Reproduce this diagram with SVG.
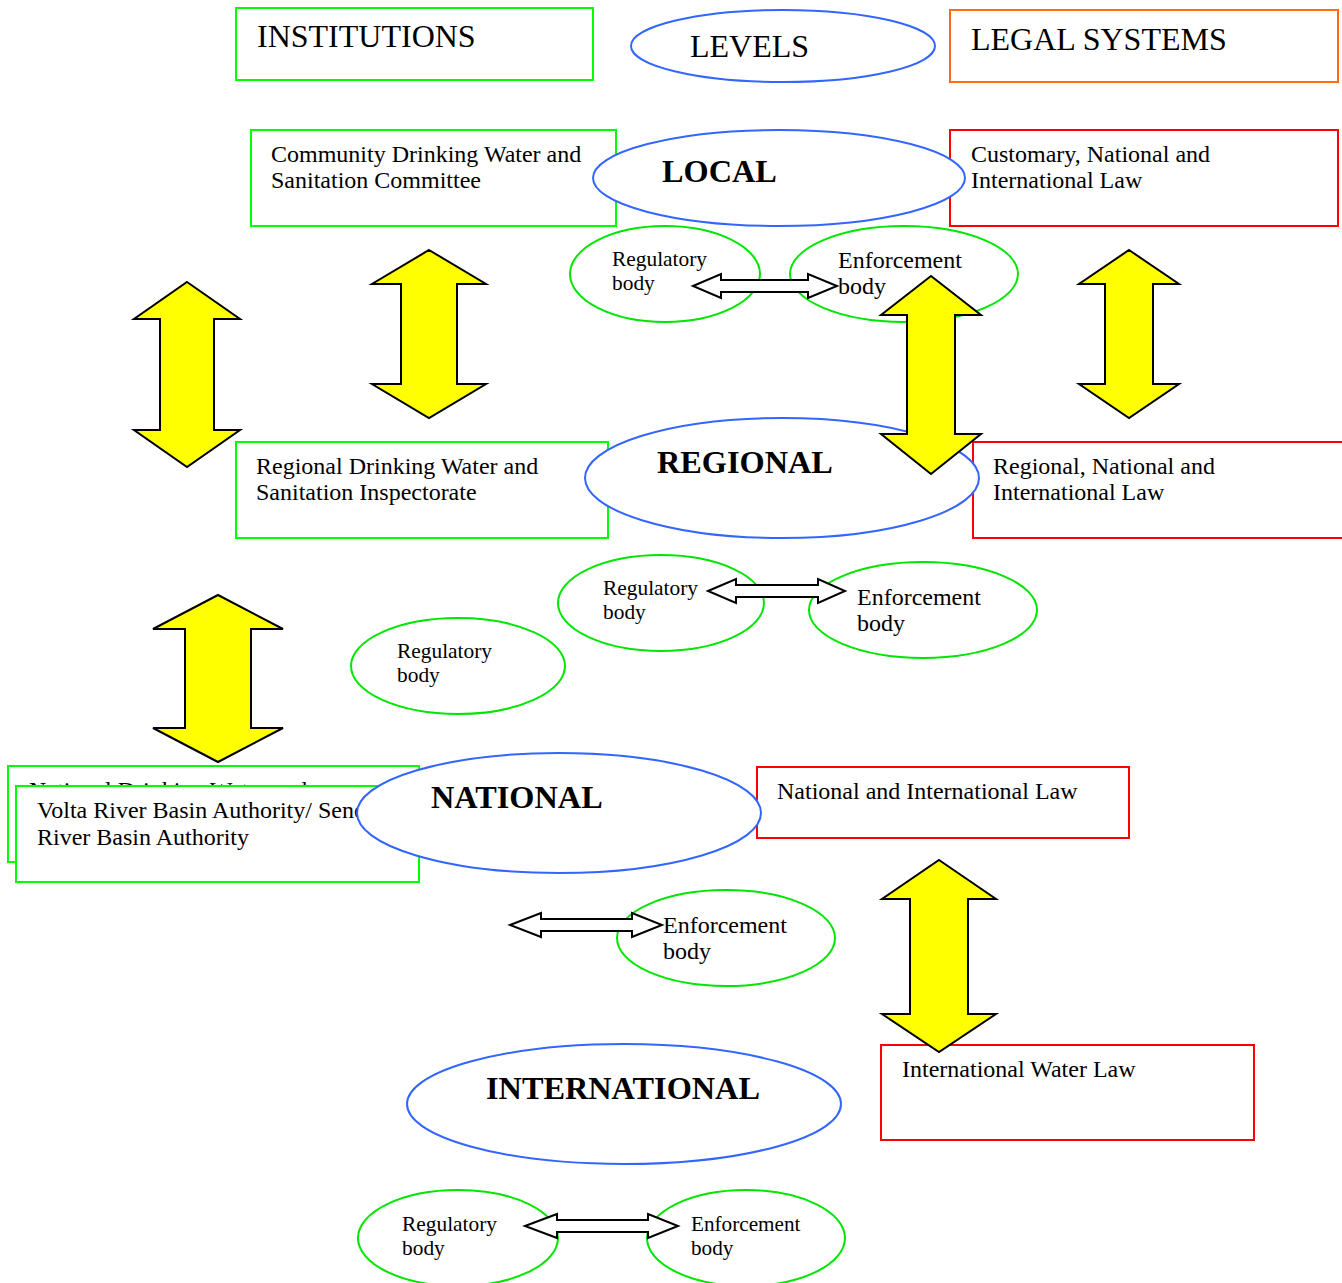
<svg xmlns="http://www.w3.org/2000/svg" width="1342" height="1283" viewBox="0 0 1342 1283">
<style>
.g{fill:#fff;stroke:#00ff00;stroke-width:2}
.r{fill:#fff;stroke:#ff0000;stroke-width:2}
.o{fill:#fff;stroke:#ff6a1a;stroke-width:2}
.b{fill:#fff;stroke:#3366ff;stroke-width:2}
.ge{fill:#fff;stroke:#00e600;stroke-width:2}
.y{fill:#ffff00;stroke:#000;stroke-width:2;stroke-linejoin:miter}
.w{fill:#fff;stroke:#000;stroke-width:2}
text{font-family:"Liberation Serif","Times New Roman",serif;fill:#000}
.h{font-size:32px}
.t{font-size:24px}
.lv{font-size:32.3px;font-weight:bold}
.s{font-size:21.4px}
.e{font-size:24px}
.s2{font-size:21.2px}
</style>
<rect width="1342" height="1283" fill="#fff"/>

<g id="hdr-institutions"><rect class="g" x="236" y="8" width="357" height="72"/><text class="h" x="257" y="47">INSTITUTIONS</text></g>
<g id="hdr-levels"><ellipse class="b" cx="783" cy="46" rx="152" ry="36"/><text class="h" x="690" y="57">LEVELS</text></g>
<g id="hdr-legal"><rect class="o" x="950" y="10" width="388" height="72"/><text class="h" x="971" y="50">LEGAL SYSTEMS</text></g>

<g id="inst-local"><rect class="g" x="251" y="130" width="365" height="96"/><text class="t" x="271" y="162">Community Drinking Water and</text><text class="t" x="271" y="188">Sanitation Committee</text></g>
<g id="law-local"><rect class="r" x="950" y="130" width="388" height="96"/><text class="t" x="971" y="162">Customary, National and</text><text class="t" x="971" y="188">International Law</text></g>
<g id="level-local"><ellipse class="b" cx="779" cy="178" rx="186" ry="48"/><text class="lv" x="662" y="182">LOCAL</text></g>
<g id="reg-local"><ellipse class="ge" cx="665" cy="274" rx="95" ry="48"/><text class="s" x="612" y="266">Regulatory</text><text class="s" x="612" y="290">body</text></g>
<g id="enf-local"><ellipse class="ge" cx="904" cy="274" rx="114" ry="48"/><text class="e" x="838" y="268">Enforcement</text><text class="e" x="838" y="294">body</text></g>

<g id="inst-regional"><rect class="g" x="236" y="442" width="372" height="96"/><text class="t" x="256" y="474">Regional Drinking Water and</text><text class="t" x="256" y="500">Sanitation Inspectorate</text></g>
<g id="law-regional"><rect class="r" x="973" y="442" width="375" height="96"/><text class="t" x="993" y="474">Regional, National and</text><text class="t" x="993" y="500">International Law</text></g>
<g id="level-regional"><ellipse class="b" cx="782" cy="478" rx="197" ry="60"/><text class="lv" x="657" y="473">REGIONAL</text></g>
<g id="reg-regional"><ellipse class="ge" cx="661" cy="603" rx="103" ry="48"/><text class="s" x="603" y="595">Regulatory</text><text class="s" x="603" y="619">body</text></g>
<g id="enf-regional"><ellipse class="ge" cx="923" cy="610" rx="114" ry="48"/><text class="e" x="857" y="605">Enforcement</text><text class="e" x="857" y="631">body</text></g>
<g id="reg-extra"><ellipse class="ge" cx="458" cy="666" rx="107" ry="48"/><text class="s" x="397" y="658">Regulatory</text><text class="s" x="397" y="682">body</text></g>

<g id="inst-national"><rect class="g" x="8" y="766" width="411" height="96"/><text class="t" x="29" y="798">National Drinking Water and</text></g>
<g id="inst-river"><rect class="g" x="16" y="786" width="403" height="96"/><text class="t" x="37" y="818">Volta River Basin Authority/ Senegal</text><text class="t" x="37" y="845">River Basin Authority</text></g>
<g id="law-national"><rect class="r" x="757" y="767" width="372" height="71"/><text class="t" x="777" y="799">National and International Law</text></g>
<g id="level-national"><ellipse class="b" cx="559" cy="813" rx="202" ry="60"/><text class="lv" x="431" y="808">NATIONAL</text></g>
<g id="enf-national"><ellipse class="ge" cx="726" cy="938" rx="109" ry="48"/><text class="e" x="663" y="933">Enforcement</text><text class="e" x="663" y="959">body</text></g>

<g id="law-international"><rect class="r" x="881" y="1045" width="373" height="95"/><text class="t" x="902" y="1077">International Water Law</text></g>
<g id="level-international"><ellipse class="b" cx="624" cy="1104" rx="217" ry="60"/><text class="lv" x="486" y="1099">INTERNATIONAL</text></g>
<g id="reg-international"><ellipse class="ge" cx="458" cy="1238" rx="100" ry="48"/><text class="s" x="402" y="1231">Regulatory</text><text class="s" x="402" y="1255">body</text></g>
<g id="enf-international"><ellipse class="ge" cx="746" cy="1238" rx="99" ry="48"/><text class="s2" x="691" y="1231">Enforcement</text><text class="s2" x="691" y="1255">body</text></g>

<g id="connectors">
<polygon class="y" points="187,282 240,319 214,319 214,430 240,430 187,467 134,430 160,430 160,319 134,319"/>
<polygon class="y" points="429,250 486,284 457,284 457,384 486,384 429,418 372,384 401,384 401,284 372,284"/>
<polygon class="y" points="1129,250 1179,284 1153,284 1153,384 1179,384 1129,418 1079,384 1105,384 1105,284 1079,284"/>
<polygon class="y" points="931,276 981,315 955,315 955,434 981,434 931,474 881,434 907,434 907,315 881,315"/>
<polygon class="y" points="218,595 283,629 251,629 251,728 283,728 218,762 153,728 185,728 185,629 153,629"/>
<polygon class="y" points="939,860 996,899 968,899 968,1014 996,1014 939,1052 882,1014 910,1014 910,899 882,899"/>
<polygon class="w" points="693,286 721,274 721,280 808,280 808,274 837,286 808,298 808,292 721,292 721,298"/>
<polygon class="w" points="708,591 736,579 736,585 818,585 818,579 845,591 818,603 818,597 736,597 736,603"/>
<polygon class="w" points="510,925 541,913 541,919 632,919 632,913 662,925 632,937 632,931 541,931 541,937"/>
<polygon class="w" points="525,1226 557,1214 557,1220 648,1220 648,1214 678,1226 648,1238 648,1232 557,1232 557,1238"/>
</g>
</svg>
